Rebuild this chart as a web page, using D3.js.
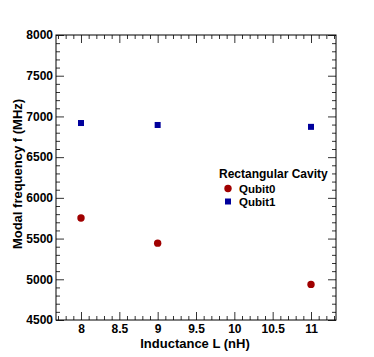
<!DOCTYPE html>
<html>
<head>
<meta charset="utf-8">
<script src="https://cdn.jsdelivr.net/npm/d3@7"></script>
<style>
body { margin: 0; background: #fff; }
text { font-family: "Liberation Sans", Arial, sans-serif; font-weight: bold; }
</style>
</head>
<body>
<div class="plot"></div>
<script>
// data
const inductance = [8, 9, 11];
const qubit0 = [5752, 5444, 4937];
const qubit1 = [6919, 6895, 6872];
const legendTitle = "Rectangular Cavity";
const seriesNames = ["Qubit0", "Qubit1"];
const xTicks = [8, 8.5, 9, 9.5, 10, 10.5, 11];
const yTicks = [4500, 5000, 5500, 6000, 6500, 7000, 7500, 8000];

const width = 374;
const height = 357;
const padLeft = 56, padRight = 336, padTop = 35, padBottom = 320;

const svg = d3.select('.plot')
	.append('svg')
	.attr('width', width)
	.attr('height', height)

const x = d3.scaleLinear().domain([7.674, 11.326]).range([padLeft, padRight]);
const y = d3.scaleLinear().domain([4500, 8000]).range([padBottom, padTop]);

const xMinor = d3.range(7.7, 11.35, 0.1).filter(v => Math.abs(v * 2 - Math.round(v * 2)) > 0.01);
const yMinor = d3.range(4600, 8000, 100).filter(v => v % 500 != 0);

function styleAxis(g) {
	g.select('.domain').remove();
	g.selectAll('line').attr('stroke', '#333');
	g.selectAll('text').attr('font-size', '12px').attr('fill', '#000');
}

// bottom axis (labels + major ticks pointing in)
svg.append('g')
	.attr('transform', `translate(0,${padBottom})`)
	.call(d3.axisBottom(x).tickValues(xTicks).tickSizeInner(-8).tickPadding(4).tickFormat(d3.format('')))
	.call(styleAxis);
svg.append('g')
	.attr('transform', `translate(0,${padBottom})`)
	.call(d3.axisBottom(x).tickValues(xMinor).tickSize(-4).tickFormat(''))
	.call(styleAxis);
// top mirrored ticks
svg.append('g')
	.attr('transform', `translate(0,${padTop})`)
	.call(d3.axisTop(x).tickValues(xTicks).tickSize(-8).tickFormat(''))
	.call(styleAxis);
svg.append('g')
	.attr('transform', `translate(0,${padTop})`)
	.call(d3.axisTop(x).tickValues(xMinor).tickSize(-4).tickFormat(''))
	.call(styleAxis);

// left axis
svg.append('g')
	.attr('transform', `translate(${padLeft},0)`)
	.call(d3.axisLeft(y).tickValues(yTicks).tickSizeInner(-8).tickPadding(3).tickFormat(d3.format('')))
	.call(styleAxis);
svg.append('g')
	.attr('transform', `translate(${padLeft},0)`)
	.call(d3.axisLeft(y).tickValues(yMinor).tickSize(-4).tickFormat(''))
	.call(styleAxis);
// right mirrored ticks
svg.append('g')
	.attr('transform', `translate(${padRight},0)`)
	.call(d3.axisRight(y).tickValues(yTicks).tickSize(-8).tickFormat(''))
	.call(styleAxis);
svg.append('g')
	.attr('transform', `translate(${padRight},0)`)
	.call(d3.axisRight(y).tickValues(yMinor).tickSize(-4).tickFormat(''))
	.call(styleAxis);

// frame
svg.append('rect')
	.attr('x', padLeft)
	.attr('y', padTop)
	.attr('width', padRight - padLeft)
	.attr('height', padBottom - padTop)
	.attr('fill', 'none')
	.attr('stroke', '#000')
	.attr('stroke-width', 1);

// axis titles
svg.append('text')
	.text('Inductance L (nH)')
	.attr('x', 195)
	.attr('y', 348)
	.attr('text-anchor', 'middle')
	.attr('font-size', '13px');
svg.append('text')
	.text('Modal frequency f (MHz)')
	.attr('transform', `translate(22,174) rotate(-90)`)
	.attr('text-anchor', 'middle')
	.attr('font-size', '13px');

// points
const red = '#a00000';
const blue = '#00009c';
svg.selectAll('.q0')
	.data(inductance)
	.enter()
	.append('circle')
	.attr('cx', function(d) { return x(d); })
	.attr('cy', function(d, i) { return y(qubit0[i]); })
	.attr('r', 3.7)
	.attr('fill', red);
svg.selectAll('.q1')
	.data(inductance)
	.enter()
	.append('rect')
	.attr('x', function(d) { return x(d) - 3; })
	.attr('y', function(d, i) { return y(qubit1[i]) - 3; })
	.attr('width', 6)
	.attr('height', 6)
	.attr('fill', blue);

// legend
svg.append('text')
	.text(legendTitle)
	.attr('x', 219)
	.attr('y', 178)
	.attr('font-size', '12px');
svg.append('circle')
	.attr('cx', 228)
	.attr('cy', 188.5)
	.attr('r', 3.7)
	.attr('fill', red);
svg.append('rect')
	.attr('x', 225)
	.attr('y', 198.5)
	.attr('width', 6)
	.attr('height', 6)
	.attr('fill', blue);
svg.selectAll('.legtext')
	.data(seriesNames)
	.enter()
	.append('text')
	.text(function(d) { return d; })
	.attr('x', 239)
	.attr('y', function(d, i) { return 192.5 + i * 13; })
	.attr('font-size', '11.5px');
</script>
</body>
</html>
